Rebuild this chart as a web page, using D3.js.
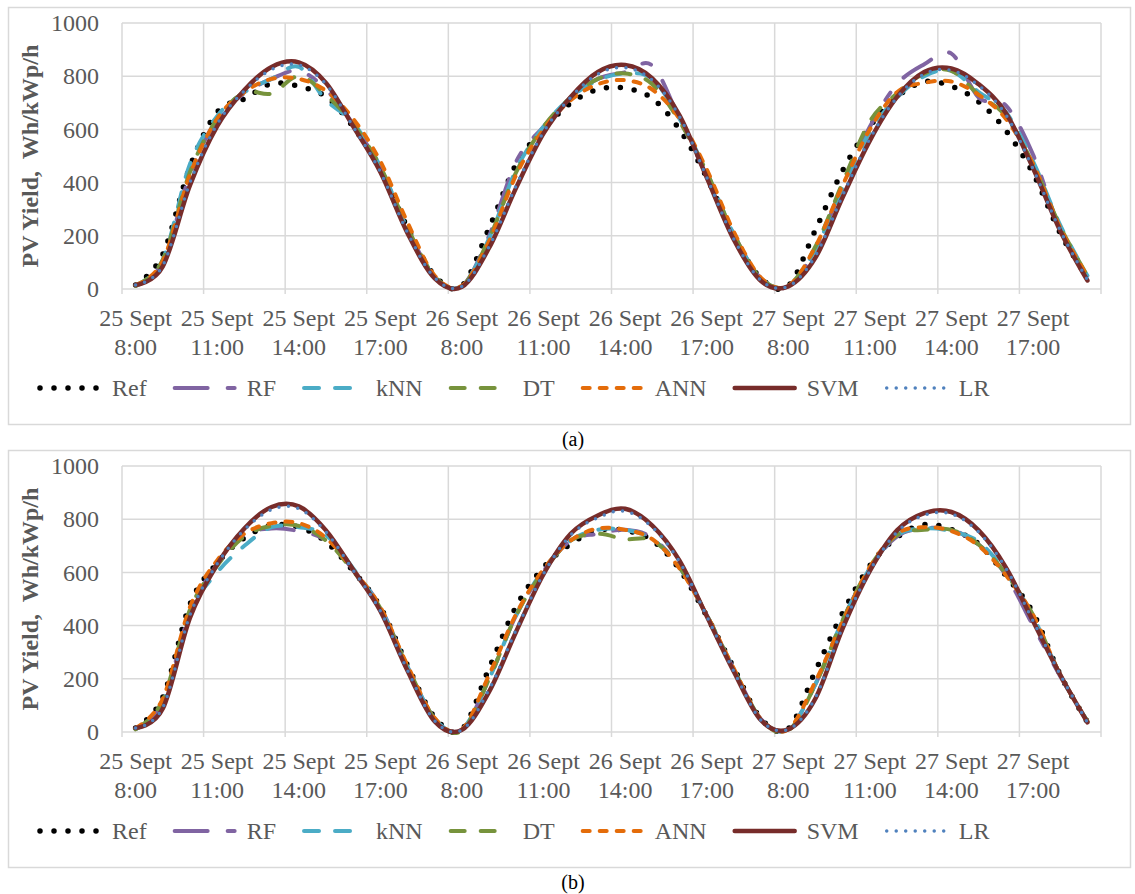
<!DOCTYPE html>
<html>
<head>
<meta charset="utf-8">
<script src="https://cdn.jsdelivr.net/npm/d3@7"></script>
<style>
  body { margin: 0; background: #fff; }
  svg text { font-family: "Liberation Serif", "Times New Roman", serif !important; }
</style>
</head>
<body>
<div id="chart"></div>
<script>
// categories: hourly values, 8:00 - 19:00 for three days
const days = ["25 Sept", "26 Sept", "27 Sept"];
const hours = ["8:00", "9:00", "10:00", "11:00", "12:00", "13:00", "14:00", "15:00", "16:00", "17:00", "18:00", "19:00"];
const yTicks = [0, 200, 400, 600, 800, 1000];
const seriesNames = ["Ref", "RF", "kNN", "DT", "ANN", "SVM", "LR"];

// panel (a)
const refA = [15, 130, 460, 665, 715, 772, 762, 722, 610, 450, 230, 50,
              12, 229, 470, 600, 699, 750, 755, 716, 600, 420, 200, 40,
              12, 222, 445, 611, 722, 779, 762, 704, 596, 435, 210, 43];
const rfA = [12, 100, 430, 640, 735, 790, 820, 750, 620, 455, 225, 45,
             10, 200, 480, 610, 720, 790, 815, 840, 640, 425, 205, 40,
             10, 150, 390, 610, 770, 845, 885, 720, 690, 505, 225, 58];
const knnA = [15, 110, 470, 650, 740, 790, 835, 710, 625, 460, 225, 45,
              12, 190, 450, 610, 720, 785, 810, 790, 640, 440, 205, 40,
              12, 150, 380, 590, 720, 800, 820, 740, 665, 480, 240, 50];
const dtA = [12, 110, 440, 640, 738, 735, 800, 730, 620, 460, 230, 48,
             10, 190, 440, 610, 720, 790, 810, 770, 630, 440, 205, 40,
             12, 160, 400, 630, 735, 810, 820, 730, 650, 470, 235, 50];
const annA = [15, 105, 430, 640, 740, 790, 790, 745, 640, 480, 250, 50,
              12, 180, 430, 600, 710, 770, 785, 750, 640, 450, 215, 42,
              12, 160, 390, 600, 740, 775, 780, 730, 640, 470, 230, 48];
const svmA = [15, 85, 390, 612, 748, 835, 852, 775, 612, 440, 210, 40,
              8, 155, 382, 585, 722, 816, 842, 792, 653, 420, 185, 30,
              10, 118, 345, 558, 722, 816, 829, 770, 662, 455, 219, 32];
const lrA = [15, 88, 400, 620, 745, 825, 842, 770, 610, 440, 212, 42,
             10, 160, 390, 590, 720, 808, 832, 785, 648, 420, 188, 32,
             10, 125, 352, 565, 720, 808, 822, 765, 655, 452, 220, 35];

// panel (b)
const refB = [15, 130, 480, 635, 730, 776, 770, 715, 605, 470, 250, 55,
              10, 240, 473, 619, 707, 758, 758, 720, 612, 436, 240, 50,
              12, 230, 448, 625, 732, 780, 761, 707, 588, 448, 215, 38];
const rfB = [12, 110, 450, 630, 740, 765, 755, 720, 610, 470, 245, 50,
             10, 200, 440, 605, 720, 745, 760, 730, 620, 440, 235, 48,
             10, 180, 420, 615, 735, 765, 760, 705, 590, 400, 210, 40];
const knnB = [12, 110, 450, 600, 700, 770, 770, 740, 615, 465, 245, 50,
              10, 200, 440, 610, 720, 760, 760, 725, 620, 440, 235, 48,
              10, 180, 420, 615, 740, 765, 755, 715, 600, 435, 215, 40];
const dtB = [10, 120, 460, 625, 735, 775, 775, 720, 605, 465, 245, 50,
             5, 200, 440, 605, 720, 745, 725, 720, 620, 440, 235, 48,
             5, 180, 420, 620, 740, 760, 760, 705, 595, 440, 215, 40];
const annB = [15, 125, 470, 645, 745, 785, 785, 730, 610, 470, 250, 52,
              10, 215, 445, 612, 720, 765, 760, 725, 615, 440, 238, 48,
              10, 190, 415, 620, 745, 770, 755, 700, 590, 440, 215, 40];
const svmB = [15, 88, 430, 630, 765, 846, 848, 758, 610, 455, 230, 40,
              8, 152, 379, 593, 745, 814, 839, 776, 644, 436, 227, 44,
              10, 126, 390, 606, 758, 823, 827, 758, 619, 417, 215, 36];
const lrB = [15, 92, 440, 632, 760, 836, 840, 752, 608, 455, 232, 42,
             8, 160, 385, 595, 740, 806, 830, 770, 640, 436, 228, 44,
             10, 130, 395, 606, 752, 815, 820, 752, 616, 418, 216, 36];

// line styles per series
const styles = {
    "Ref": {color: "#000000", width: 5.5, dash: "0 14"},
    "RF":  {color: "#8064a2", width: 4, dash: "33 20 9 20"},
    "kNN": {color: "#4bacc6", width: 4, dash: "15 16"},
    "DT":  {color: "#77933c", width: 4, dash: "14 16"},
    "ANN": {color: "#e46c0a", width: 4, dash: "7 10"},
    "SVM": {color: "#772c2a", width: 4.5, dash: null},
    "LR":  {color: "#4f81bd", width: 3.5, dash: "0 9.5"}
};

const categories = days.flatMap(d => hours.map(h => d + "|" + h));
const textColor = "#595959", gridColor = "#d9d9d9";
const serif = "Liberation Serif, Times New Roman, serif";

const svg = d3.select("#chart")
    .append("svg")
    .attr("width", 1135)
    .attr("height", 894)
    .attr("font-family", serif);

function drawPanel(offset, series, caption) {
    const plot = {left: 122, right: 1101, top: offset + 23, bottom: offset + 289};
    const g = svg.append("g");

    // chart border
    g.append("rect")
        .attr("x", 8.5).attr("y", offset + 7.5)
        .attr("width", 1122).attr("height", 417)
        .attr("fill", "none")
        .attr("stroke", gridColor)
        .attr("stroke-width", 1.5);

    const x = d3.scaleBand()
        .domain(categories)
        .range([plot.left, plot.right])
        .padding(0);
    const y = d3.scaleLinear()
        .domain([0, 1000])
        .range([plot.bottom, plot.top]);

    // horizontal gridlines
    g.append("g").selectAll("line")
        .data(yTicks)
        .enter()
        .append("line")
        .attr("x1", plot.left).attr("x2", plot.right)
        .attr("y1", d => y(d)).attr("y2", d => y(d))
        .attr("stroke", gridColor)
        .attr("stroke-width", 1.5);

    // vertical gridlines + tick marks every 3 categories
    const boundaries = categories.filter((d, i) => i % 3 === 0).map(d => x(d)).concat([plot.right]);
    g.append("g").selectAll("line")
        .data(boundaries)
        .enter()
        .append("line")
        .attr("x1", d => d).attr("x2", d => d)
        .attr("y1", plot.top).attr("y2", plot.bottom + 5)
        .attr("stroke", gridColor)
        .attr("stroke-width", 1.5);

    // x axis labels (two lines)
    const xAxis = g.append("g")
        .attr("transform", `translate(0,${plot.bottom})`)
        .call(d3.axisBottom(x)
            .tickValues(categories.filter((d, i) => i % 3 === 0))
            .tickSize(0)
            .tickFormat(""));
    xAxis.select(".domain").remove();
    xAxis.attr("font-family", serif);
    xAxis.selectAll(".tick").each(function(d) {
        const parts = d.split("|");
        const t = d3.select(this).append("text")
            .attr("fill", textColor)
            .attr("font-size", 24)
            .attr("font-family", serif)
            .attr("text-anchor", "middle");
        t.append("tspan").attr("x", 0).attr("y", 37).text(parts[0]);
        t.append("tspan").attr("x", 0).attr("y", 66).text(parts[1]);
    });

    // y axis
    const yAxis = g.append("g")
        .attr("transform", `translate(${plot.left},0)`)
        .call(d3.axisLeft(y).tickValues(yTicks).tickSize(0).tickPadding(23).tickFormat(d3.format("d")));
    yAxis.select(".domain").remove();
    yAxis.attr("font-family", serif);
    yAxis.selectAll("text")
        .attr("fill", textColor)
        .attr("font-size", 24)
        .attr("font-family", serif);

    g.append("text")
        .attr("transform", `translate(38,${(plot.top + plot.bottom) / 2}) rotate(-90)`)
        .attr("text-anchor", "middle")
        .attr("fill", textColor)
        .attr("font-size", 24)
        .attr("font-weight", "bold")
        .attr("font-family", serif)
        .style("white-space", "pre")
        .text("PV Yield,  Wh/kWp/h");

    // series lines
    const line = d3.line()
        .x((d, i) => x(categories[i]) + x.bandwidth() / 2)
        .y(d => y(d))
        .curve(d3.curveCardinal.tension(0));

    seriesNames.forEach((name, k) => {
        const s = styles[name];
        g.append("path")
            .datum(series[k])
            .attr("d", line)
            .attr("fill", "none")
            .attr("stroke", s.color)
            .attr("stroke-width", s.width)
            .attr("stroke-linecap", "round")
            .attr("stroke-linejoin", "round")
            .attr("stroke-dasharray", s.dash);
    });

    // legend
    const legendY = offset + 388;
    let lx = 40;
    seriesNames.forEach(name => {
        const s = styles[name];
        g.append("line")
            .attr("x1", lx).attr("x2", lx + 60)
            .attr("y1", legendY).attr("y2", legendY)
            .attr("stroke", s.color)
            .attr("stroke-width", s.width)
            .attr("stroke-linecap", "round")
            .attr("stroke-dasharray", s.dash);
        const t = g.append("text")
            .attr("x", lx + 72)
            .attr("y", legendY + 8)
            .attr("fill", textColor)
            .attr("font-size", 24)
            .attr("font-family", serif)
            .text(name);
        lx += 72 + t.node().getComputedTextLength() + 28;
    });

    // caption below the box
    svg.append("text")
        .attr("x", 573)
        .attr("y", offset + 446)
        .attr("text-anchor", "middle")
        .attr("fill", "#000")
        .attr("font-size", 20)
        .attr("font-family", serif)
        .text(caption);
}

drawPanel(0, [refA, rfA, knnA, dtA, annA, svmA, lrA], "(a)");
drawPanel(443, [refB, rfB, knnB, dtB, annB, svmB, lrB], "(b)");
</script>
</body>
</html>
